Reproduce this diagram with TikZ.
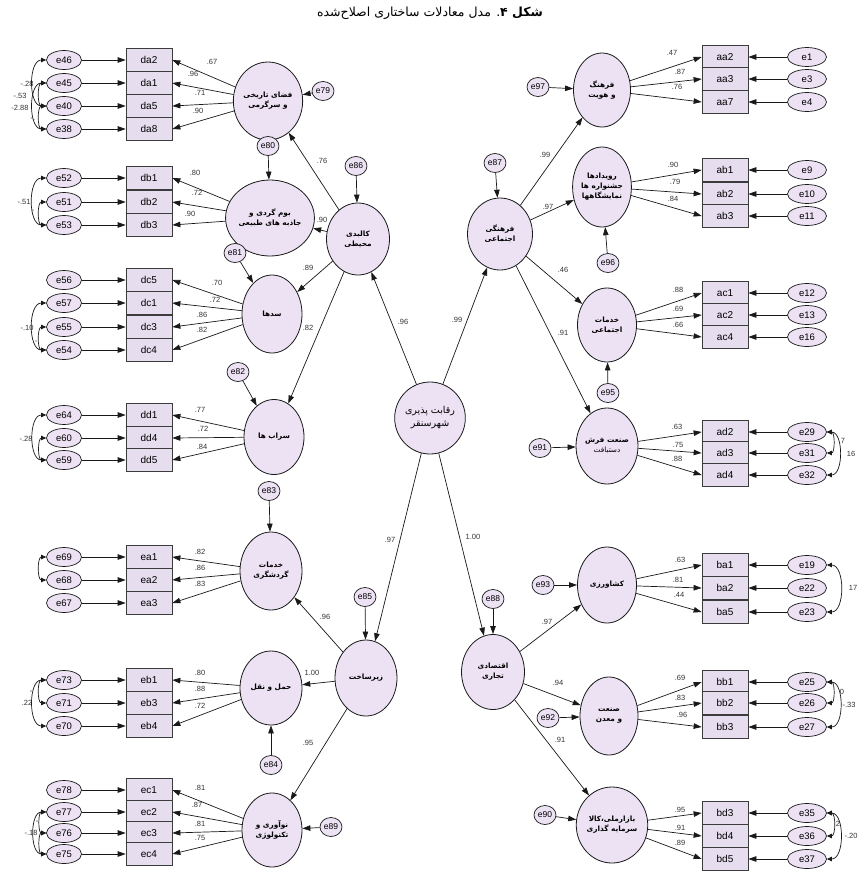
\documentclass[tikz,border=0pt]{standalone}
\usepackage{fontspec}
\setmainfont{Liberation Sans}
\newfontfamily\arabicfont[Script=Arabic]{DejaVu Sans}
\TeXXeTstate=1
\usetikzlibrary{shapes.geometric,arrows.meta}
\definecolor{latfill}{RGB}{236,226,243}
\definecolor{boxfill}{RGB}{230,222,238}
\definecolor{linec}{RGB}{25,25,25}
\newcommand\fa[1]{{\arabicfont\beginR #1\endR}}
\tikzset{
  lat/.style={ellipse, draw=linec, line width=0.8pt, fill=latfill, minimum width=60pt, minimum height=76pt, inner sep=0pt, align=center, font=\arabicfont\bfseries\fontsize{7.3}{10}\selectfont},
  errnode/.style={ellipse, draw=linec, line width=0.7pt, fill=latfill, minimum width=35pt, minimum height=19pt, inner sep=0pt, font=\fontsize{9.5}{10}\selectfont},
  rerrnode/.style={errnode, minimum width=39pt},
  distnode/.style={ellipse, draw=linec, line width=0.7pt, fill=latfill, minimum width=22pt, minimum height=19pt, inner sep=0pt, font=\fontsize{8.5}{9}\selectfont},
  obs/.style={rectangle, draw=linec!85, line width=0.7pt, fill=boxfill, minimum width=46pt, minimum height=23pt, inner sep=0pt, font=\fontsize{10}{11}\selectfont},
  arr/.style={-{Triangle[length=8pt,width=5.5pt]}, line width=0.7pt, draw=linec},
  cov/.style={{Triangle[length=5pt,width=4.5pt]}-{Triangle[length=5pt,width=4.5pt]}, line width=0.7pt, draw=linec},
  lbl/.style={inner sep=0pt, font=\fontsize{7.5}{8}\selectfont, text=black!80},
}
\newcommand\lrow[6]{%
  \node[errnode] (#1) at (64,#3) {#1};
  \node[obs] (#2) at (149,#3) {#2};
  \draw[arr] (#1) -- (#2);
  \draw[arr] (#4) -- (#2.east);
  \node[lbl] (l-#2) at (#6) {#5};
}
\newcommand\rrow[6]{%
  \node[rerrnode] (#1) at (807,#3) {#1};
  \node[obs] (#2) at (725,#3) {#2};
  \draw[arr] (#1) -- (#2);
  \draw[arr] (#4) -- (#2.west);
  \node[lbl] (l-#2) at (#6) {#5};
}
\begin{document}
\begin{tikzpicture}[x=1pt,y=-1pt]
\fill[white] (0,0) rectangle (859,871);
\useasboundingbox (0,0) rectangle (859,871);

\node[font=\arabicfont\fontsize{12.5}{14}\selectfont] (title) at (430,13) {\beginR\textbf{شکل ۴}. مدل معادلات ساختاری اصلاح‌شده\endR};

% latent variables
\node[lat, minimum height=78pt] (A1) at (268,101) {\fa{فضای تاریخی}\\\fa{و سرگرمی}};
\node[lat] (A2) at (270,218) {\fa{بوم گردی و}\\\fa{جاذبه های طبیعی}};
\node[lat, minimum width=63pt, minimum height=72pt] (K) at (358,239) {\fa{کالبدی}\\\fa{محیطی}};
\node[lat, minimum height=78pt] (S) at (272,314) {\fa{سدها}};
\node[lat, minimum height=75pt] (SB) at (274,437) {\fa{سراب ها}};
\node[lat, minimum width=62pt, minimum height=78pt] (KG) at (271,571) {\fa{خدمات}\\\fa{گردشگری}};
\node[lat, minimum width=62pt] (Z) at (366,678) {\fa{زیرساخت}};
\node[lat, minimum width=62pt, minimum height=74pt] (HN) at (271,688) {\fa{حمل و نقل}};
\node[lat, minimum height=74pt] (NV) at (272,830) {\fa{نوآوری و}\\\fa{تکنولوژی}};
\node[lat, minimum width=64pt, minimum height=72pt, font=\arabicfont\fontsize{9.5}{13}\selectfont] (C) at (430,418) {\fa{رقابت پذیری}\\\fa{شهرسنقر}};
\node[lat, minimum width=65pt, minimum height=72pt] (F) at (500,234) {\fa{فرهنگی}\\\fa{اجتماعی}};
\node[lat, minimum width=57pt, minimum height=74pt] (FH) at (602,90) {\fa{فرهنگ}\\\fa{و هویت}};
\node[lat, minimum width=54pt, minimum height=80pt] (R) at (602,187) {\fa{رویدادها}\\\fa{جشنواره ها}\\\fa{نمایشگاهها}};
\node[lat, minimum width=59pt, minimum height=74pt] (KE) at (607,325) {\fa{خدمات}\\\fa{اجتماعی}};
\node[lat] (SF) at (607,446) {\fa{صنعت فرش}\\{\mdseries\fa{دستبافت}}};
\node[lat, minimum width=63pt, minimum height=75pt] (E) at (493,672) {\fa{اقتصادی}\\\fa{تجاری}};
\node[lat, minimum width=59pt] (KS) at (607,585) {\fa{کشاورزی}};
\node[lat, minimum width=58pt, minimum height=78pt] (SM) at (609,716) {\fa{صنعت}\\\fa{و معدن}};
\node[lat, minimum width=57pt] (BZ) at (612,825) {\fa{بازارملی،کالا}\\\fa{سرمایه گذاری}};

% disturbances
\node[distnode] (e79) at (323,91) {e79};
\node[distnode] (e80) at (268,146) {e80};
\node[distnode] (e86) at (356,166) {e86};
\node[distnode] (e81) at (235,253) {e81};
\node[distnode] (e82) at (238,372) {e82};
\node[distnode] (e83) at (269,491) {e83};
\node[distnode] (e85) at (365,597) {e85};
\node[distnode] (e84) at (271,765) {e84};
\node[distnode] (e89) at (331,827) {e89};
\node[distnode] (e87) at (495,163) {e87};
\node[distnode] (e97) at (538,87) {e97};
\node[distnode] (e96) at (608,263) {e96};
\node[distnode] (e95) at (608,393) {e95};
\node[distnode] (e91) at (540,448) {e91};
\node[distnode] (e88) at (493,599) {e88};
\node[distnode] (e93) at (543,585) {e93};
\node[distnode] (e92) at (548,718) {e92};
\node[distnode] (e90) at (545,815) {e90};

\draw[arr] (e79) -- (A1);
\draw[arr] (e80) -- (A2);
\draw[arr] (e86) -- (K);
\draw[arr] (e81) -- (S);
\draw[arr] (e82) -- (SB);
\draw[arr] (e83) -- (KG);
\draw[arr] (e85) -- (Z);
\draw[arr] (e84) -- (HN);
\draw[arr] (e89) -- (NV);
\draw[arr] (e87) -- (F);
\draw[arr] (e97) -- (FH);
\draw[arr] (e96) -- (R);
\draw[arr] (e95) -- (KE);
\draw[arr] (e91) -- (SF);
\draw[arr] (e88) -- (E);
\draw[arr] (e93) -- (KS);
\draw[arr] (e92) -- (SM);
\draw[arr] (e90) -- (BZ);

% structural paths
\draw[arr] (C) -- (K);  \node[lbl] (s1) at (403,322) {.96};
\draw[arr] (C) -- (F);  \node[lbl] (s2) at (457,320) {.99};
\draw[arr] (C) -- (Z);  \node[lbl] (s3) at (390,540) {.97};
\draw[arr] (C) -- (E);  \node[lbl] (s4) at (473,537) {1.00};
\draw[arr] (K) -- (A1); \node[lbl] (s5) at (322,161) {.76};
\draw[arr] (K) -- (A2); \node[lbl] (s6) at (322,220) {.90};
\draw[arr] (K) -- (S);  \node[lbl] (s7) at (308,268) {.89};
\draw[arr] (K) -- (SB); \node[lbl] (s8) at (308,328) {.82};
\draw[arr] (F) -- (FH); \node[lbl] (s9) at (545,155) {.99};
\draw[arr] (F) -- (R);  \node[lbl] (s10) at (548,207) {.97};
\draw[arr] (F) -- (KE); \node[lbl] (s11) at (563,270) {.46};
\draw[arr] (F) -- (SF); \node[lbl] (s12) at (563,333) {.91};
\draw[arr] (Z) -- (KG); \node[lbl] (s13) at (325,617) {.96};
\draw[arr] (Z) -- (HN); \node[lbl] (s14) at (312,673) {1.00};
\draw[arr] (Z) -- (NV); \node[lbl] (s15) at (308,743) {.95};
\draw[arr] (E) -- (KS); \node[lbl] (s16) at (547,622) {.97};
\draw[arr] (E) -- (SM); \node[lbl] (s17) at (558,683) {.94};
\draw[arr] (E) -- (BZ); \node[lbl] (s18) at (560,740) {.91};

% left measurement blocks
\lrow{e46}{da2}{60}{A1}{.67}{212,62}
\lrow{e45}{da1}{83}{A1}{.96}{193,74}
\lrow{e40}{da5}{106}{A1}{.71}{200,93}
\lrow{e38}{da8}{129}{A1}{.90}{198,111}
\lrow{e52}{db1}{178}{A2}{.80}{195,173}
\lrow{e51}{db2}{202}{A2}{.72}{197,193}
\lrow{e53}{db3}{225}{A2}{.90}{190,214}
\lrow{e56}{dc5}{280}{S}{.70}{217,283}
\lrow{e57}{dc1}{303}{S}{.72}{215,300}
\lrow{e55}{dc3}{327}{S}{.86}{202,315}
\lrow{e54}{dc4}{350}{S}{.82}{202,330}
\lrow{e64}{dd1}{415}{SB}{.77}{200,410}
\lrow{e60}{dd4}{438}{SB}{.72}{203,429}
\lrow{e59}{dd5}{460}{SB}{.84}{202,447}
\lrow{e69}{ea1}{557}{KG}{.82}{200,552}
\lrow{e68}{ea2}{580}{KG}{.86}{200,568}
\lrow{e67}{ea3}{603}{KG}{.83}{200,584}
\lrow{e73}{eb1}{680}{HN}{.80}{200,673}
\lrow{e71}{eb3}{703}{HN}{.88}{200,689}
\lrow{e70}{eb4}{726}{HN}{.72}{200,706}
\lrow{e78}{ec1}{790}{NV}{.81}{200,788}
\lrow{e77}{ec2}{812}{NV}{.87}{197,805}
\lrow{e76}{ec3}{833}{NV}{.81}{200,824}
\lrow{e75}{ec4}{854}{NV}{.75}{200,838}

% right measurement blocks
\rrow{e1}{aa2}{57}{FH}{.47}{672,53}
\rrow{e3}{aa3}{79}{FH}{.87}{680,72}
\rrow{e4}{aa7}{102}{FH}{.76}{677,87}
\rrow{e9}{ab1}{170}{R}{.90}{673,165}
\rrow{e10}{ab2}{194}{R}{.79}{675,182}
\rrow{e11}{ab3}{216}{R}{.84}{673,199}
\rrow{e12}{ac1}{293}{KE}{.88}{678,290}
\rrow{e13}{ac2}{315}{KE}{.69}{678,309}
\rrow{e16}{ac4}{337}{KE}{.66}{678,325}
\rrow{e29}{ad2}{432}{SF}{.63}{677,427}
\rrow{e31}{ad3}{453}{SF}{.75}{678,445}
\rrow{e32}{ad4}{475}{SF}{.88}{677,459}
\rrow{e19}{ba1}{565}{KS}{.63}{680,560}
\rrow{e22}{ba2}{588}{KS}{.81}{678,580}
\rrow{e23}{ba5}{612}{KS}{.44}{679,595}
\rrow{e25}{bb1}{682}{SM}{.69}{680,678}
\rrow{e26}{bb2}{703}{SM}{.83}{680,698}
\rrow{e27}{bb3}{727}{SM}{.96}{682,715}
\rrow{e35}{bd3}{813}{BZ}{.95}{680,810}
\rrow{e36}{bd4}{836}{BZ}{.91}{680,828}
\rrow{e37}{bd5}{859}{BZ}{.89}{680,843}

% covariances, left
\draw[cov] (e46.west) to[out=180,in=180] (e40.west);
\draw[cov] (e45.west) to[out=180,in=180] (e40.west);
\draw[cov] (e45.west) to[out=180,in=180] (e38.west);
\draw[cov] (e40.west) to[out=180,in=180] (e38.west);
\node[lbl] (c1) at (27,84) {-.28};
\node[lbl] (c2) at (20,96) {-.53};
\node[lbl] (c3) at (20,108) {-2.88};
\node[lbl] (c4) at (33,119) {-.};
\draw[cov] (e52.west) to[out=180,in=180] (e53.west);
\draw[cov] (e51.west) to[out=180,in=180] (e53.west);
\node[lbl] (c5) at (24,202) {-.51};
\node[lbl] (c6) at (33,211) {-};
\draw[cov] (e57.west) to[out=180,in=180] (e54.west);
\draw[cov] (e55.west) to[out=180,in=180] (e54.west);
\node[lbl] (c7) at (27,328) {-.10};
\node[lbl] (c8) at (36,342) {-};
\draw[cov] (e64.west) to[out=180,in=180] (e59.west);
\draw[cov] (e60.west) to[out=180,in=180] (e59.west);
\node[lbl] (c9) at (26,439) {-.28};
\draw[cov] (e69.west) to[out=180,in=180] (e68.west);
\draw[cov] (e73.west) to[out=180,in=180] (e71.west);
\draw[cov] (e73.west) to[out=180,in=180] (e70.west);
\node[lbl] (c10) at (31,692) {-};
\node[lbl] (c11) at (27,703) {.22};
\draw[cov] (e77.west) to[out=180,in=180] (e76.west);
\draw[cov] (e77.west) to[out=180,in=180] (e75.west);
\draw[cov] (e76.west) to[out=180,in=180] (e75.west);
\node[lbl] (c12) at (37,822) {-};
\node[lbl] (c13) at (31,833) {-.18};

% covariances, right
\draw[cov] (e29.east) to[out=0,in=0] (e31.east);
\draw[cov] (e29.east) to[out=0,in=0] (e32.east);
\node[lbl] (c14) at (843,441) {7};
\node[lbl] (c15) at (851,454) {16};
\draw[cov] (e19.east) to[out=0,in=0] (e23.east);
\node[lbl] (c16) at (853,588) {17};
\draw[cov] (e25.east) to[out=0,in=0] (e26.east);
\draw[cov] (e25.east) to[out=0,in=0] (e27.east);
\node[lbl] (c17) at (842,692) {0};
\node[lbl] (c18) at (849,705) {-.33};
\draw[cov] (e35.east) to[out=0,in=0] (e36.east);
\draw[cov] (e35.east) to[out=0,in=0] (e37.east);
\node[lbl] (c19) at (838,824) {2};
\node[lbl] (c20) at (851,836) {-.20};
\end{tikzpicture}
\end{document}
